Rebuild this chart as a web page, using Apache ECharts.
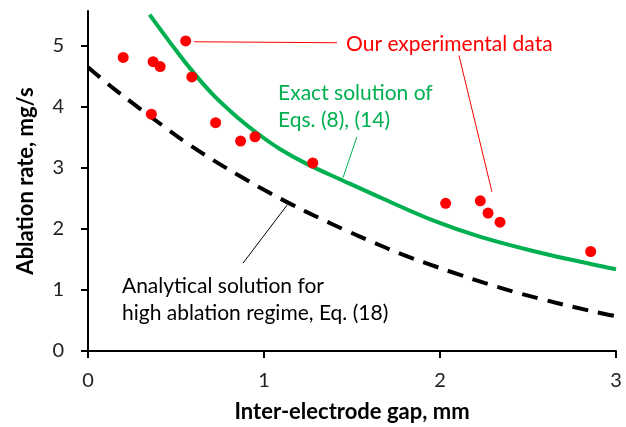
<!DOCTYPE html>
<html>
<head>
<meta charset="utf-8">
<script src="https://cdn.jsdelivr.net/npm/echarts@6/dist/echarts.min.js"></script>
<style>
  html, body { margin: 0; padding: 0; background: #fff; }
  #chart { width: 626px; height: 427px; }
</style>
</head>
<body>
<div id="chart"></div>
<script>
// experimental points (gap in mm, rate in mg/s)
const expGap  = [0.20, 0.37, 0.41, 0.36, 0.555, 0.59, 0.725, 0.867, 0.949, 1.277, 2.032, 2.229, 2.273, 2.341, 2.856];
const expRate = [4.81, 4.74, 4.66, 3.88, 5.08, 4.49, 3.74, 3.44, 3.51, 3.08, 2.42, 2.46, 2.26, 2.11, 1.63];

// exact solution, Eqs. (8), (14)
const exactGap  = [0.35, 0.47, 0.58, 0.71, 0.86, 0.96, 1.09, 1.24, 1.45, 1.68, 1.96, 2.23, 2.57, 2.85, 3.0];
const exactRate = [5.51, 5.04, 4.63, 4.20, 3.80, 3.57, 3.31, 3.07, 2.79, 2.49, 2.14, 1.87, 1.61, 1.43, 1.34];

// analytical solution, Eq. (18)
const analyticGap  = [0, 0.15, 0.30, 0.43, 0.56, 0.71, 0.86, 1.0, 1.15, 1.32, 1.47, 1.62, 1.77, 1.94, 2.11, 2.27, 2.42, 2.59, 2.76, 2.93, 3.0];
const analyticRate = [4.65, 4.29, 3.96, 3.68, 3.41, 3.13, 2.87, 2.64, 2.41, 2.17, 1.97, 1.78, 1.60, 1.42, 1.25, 1.10, 0.97, 0.84, 0.72, 0.61, 0.57];

const yTicks = [0, 1, 2, 3, 4, 5];

const font = 'Lato, "Liberation Sans", sans-serif';

let zip = (xs, ys) => xs.map((x, i) => [x, ys[i]]);

let chart = echarts.init(document.getElementById('chart'), null, { renderer: 'canvas' });

let options = {
  animation: false,
  textStyle: { fontFamily: font },
  grid: { left: 88, right: 10, top: 11, bottom: 76, containLabel: false, outerBoundsMode: 'none' },
  xAxis: {
    type: 'value',
    min: 0,
    max: 3,
    interval: 1,
    name: 'Inter-electrode gap, mm',
    nameLocation: 'middle',
    nameGap: 50,
    nameTextStyle: { fontSize: 22, fontWeight: 'bold', color: '#000', fontFamily: font },
    axisLine: { lineStyle: { color: '#000', width: 2 } },
    axisTick: { show: true, length: 7, lineStyle: { color: '#000', width: 2 } },
    axisLabel: { fontSize: 20, color: '#222', margin: 20, fontFamily: font },
    splitLine: { show: false }
  },
  yAxis: {
    type: 'value',
    min: 0,
    max: 5.57,
    interval: 1,
    name: 'Ablation rate, mg/s',
    nameLocation: 'middle',
    nameRotate: 90,
    nameGap: 51,
    nameTextStyle: { fontSize: 22, fontWeight: 'bold', color: '#000', fontFamily: font },
    axisLine: { show: true, lineStyle: { color: '#000', width: 2 } },
    axisTick: { show: true, length: 7, customValues: yTicks, lineStyle: { color: '#000', width: 2 } },
    axisLabel: { fontSize: 20, color: '#222', margin: 24, customValues: yTicks, fontFamily: font },
    splitLine: { show: false }
  },
  series: [{
    name: 'Analytical',
    type: 'line',
    data: zip(analyticGap, analyticRate),
    smooth: 0.4,
    showSymbol: false,
    lineStyle: { color: '#000', width: 4, type: [16, 10] },
    markLine: {
      silent: true,
      symbol: 'none',
      label: { show: false },
      lineStyle: { color: '#000', width: 1, type: 'solid' },
      data: [[{ coord: [1.131, 2.39] }, { coord: [0.881, 1.44] }]]
    },
    z: 2
  }, {
    name: 'Exact',
    type: 'line',
    data: zip(exactGap, exactRate),
    smooth: 0.4,
    showSymbol: false,
    lineStyle: { color: '#00B050', width: 4 },
    markLine: {
      silent: true,
      symbol: 'none',
      label: { show: false },
      lineStyle: { color: '#00B050', width: 1, type: 'solid' },
      data: [[{ coord: [1.528, 3.51] }, { coord: [1.449, 2.84] }]]
    },
    z: 3
  }, {
    name: 'Experiment',
    type: 'scatter',
    data: zip(expGap, expRate),
    symbol: 'circle',
    symbolSize: 11,
    itemStyle: { color: '#FF0000', opacity: 1 },
    markLine: {
      silent: true,
      symbol: 'none',
      label: { show: false },
      lineStyle: { color: '#FF0000', width: 1, type: 'solid' },
      data: [
        [{ coord: [0.602, 5.066] }, { coord: [1.415, 5.05] }],
        [{ coord: [2.108, 4.84] }, { coord: [2.295, 2.61] }]
      ]
    },
    z: 5
  }]
};

chart.setOption(options);

// annotation texts, top-left corner given in data coordinates
const notes = [
  { at: [1.466, 5.24], lines: ['Our experimental data'], color: '#FF0000' },
  { at: [1.08, 4.45], lines: ['Exact solution of', 'Eqs. (8), (14)'], color: '#00B050' },
  { at: [0.193, 1.29], lines: ['Analytical solution for', 'high ablation regime, Eq. (18)'], color: '#000' }
];

let graphics = notes.map(n => {
  let p = chart.convertToPixel({ gridIndex: 0 }, n.at);
  return {
    type: 'text',
    x: p[0],
    y: p[1],
    style: {
      text: n.lines.join('\n'),
      fill: n.color,
      fontSize: 21,
      lineHeight: 27,
      fontFamily: font,
      align: 'left',
      verticalAlign: 'top'
    },
    z: 10
  };
});

chart.setOption({ graphic: graphics });
</script>
</body>
</html>
